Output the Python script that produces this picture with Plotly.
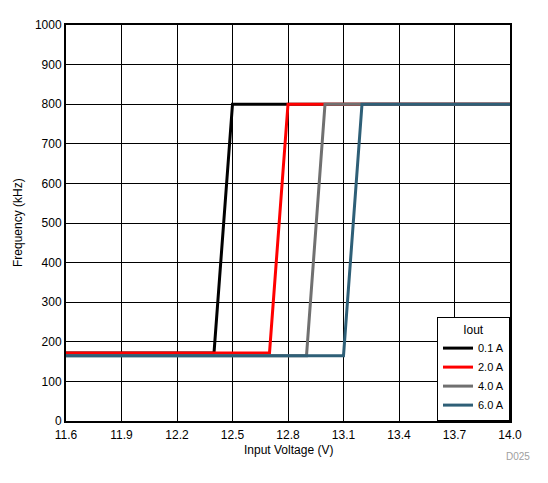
import plotly.graph_objects as go

# Data
series_names = ["0.1 A", "2.0 A", "4.0 A", "6.0 A"]
vin_01 = [11.6, 12.4, 12.5, 14.0]
freq_01 = [172, 172, 800, 800]
vin_20 = [11.6, 12.7, 12.8, 14.0]
freq_20 = [172, 172, 800, 800]
vin_40 = [11.6, 12.9, 13.0, 14.0]
freq_40 = [165, 165, 800, 800]
vin_60 = [11.6, 13.1, 13.2, 14.0]
freq_60 = [165, 165, 800, 800]
x_ticks = [11.6, 11.9, 12.2, 12.5, 12.8, 13.1, 13.4, 13.7, 14.0]
y_ticks = [0, 100, 200, 300, 400, 500, 600, 700, 800, 900, 1000]

colors = ["#000000", "#FF0000", "#707070", "#2E5F77"]
xs = [vin_01, vin_20, vin_40, vin_60]
ys = [freq_01, freq_20, freq_40, freq_60]

fig = go.Figure()
for name, x, y, c in zip(series_names, xs, ys, colors):
    fig.add_trace(go.Scatter(x=x, y=y, mode="lines", name=name,
                             line=dict(color=c, width=3)))

font_family = "Liberation Sans, Arial, sans-serif"
fig.update_layout(
    width=548, height=483,
    margin=dict(l=58, r=46, t=17, b=70, autoexpand=False),
    paper_bgcolor="white", plot_bgcolor="white",
    font=dict(family=font_family, size=12, color="black"),
    showlegend=True,
    legend=dict(
        x=1, y=0, xanchor="right", yanchor="bottom",
        bgcolor="white", bordercolor="black", borderwidth=1,
        title=dict(text="Iout", side="top center", font=dict(size=12)),
        font=dict(size=11),
        itemwidth=30,
        tracegroupgap=0,
    ),
    xaxis=dict(
        range=[11.6, 14.0], tickvals=x_ticks,
        ticktext=[f"{v:.1f}" for v in x_ticks],
        showgrid=True, gridcolor="black", gridwidth=1,
        showline=True, linecolor="black", linewidth=2, mirror=True,
        zeroline=False,
        tickfont=dict(size=12),
        ticklabelstandoff=2,
        automargin=False,
    ),
    yaxis=dict(
        range=[0, 1000], tickvals=y_ticks,
        showgrid=True, gridcolor="black", gridwidth=1,
        showline=True, linecolor="black", linewidth=2, mirror=True,
        zeroline=False,
        tickfont=dict(size=12),
        automargin=False,
    ),
    annotations=[
        dict(text="Frequency (kHz)", x=0, y=0.5, xref="paper", yref="paper",
             xanchor="center", yanchor="middle", textangle=-90, xshift=-48,
             showarrow=False, font=dict(size=12)),
        dict(text="Input Voltage (V)", x=0.5, y=0, xref="paper", yref="paper",
             xanchor="center", yanchor="middle", yshift=-29,
             showarrow=False, font=dict(size=12)),
        dict(text="D025", x=1, y=0, xref="paper", yref="paper",
             xanchor="right", yanchor="middle", yshift=-35, xshift=22,
             showarrow=False, font=dict(size=10, color="#A0A0A0")),
    ],
)

fig.write_html("out.html")
